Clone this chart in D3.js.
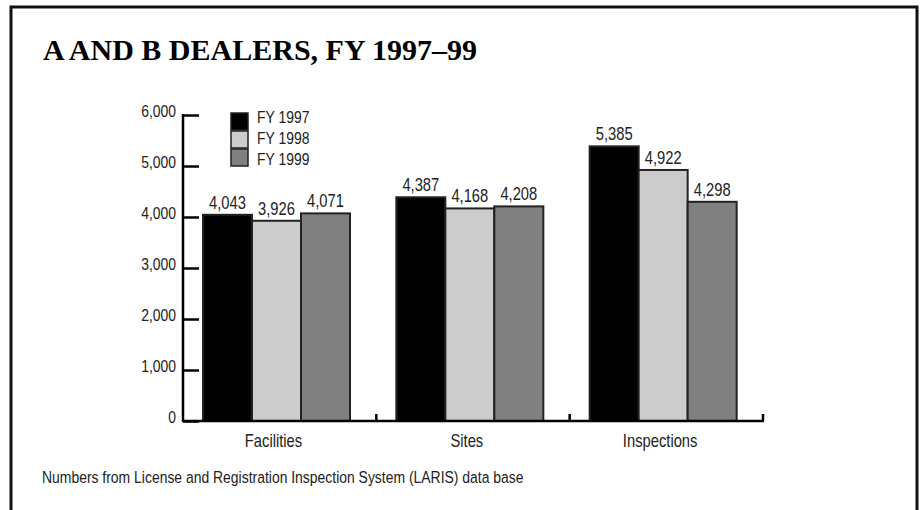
<!DOCTYPE html>
<html>
<head>
<meta charset="utf-8">
<script src="https://cdn.jsdelivr.net/npm/d3@7"></script>
<style>
	body { margin: 0; background: #fff; }
	svg text { font-family: "Liberation Sans", Arimo, sans-serif; fill: #222; }
</style>
</head>
<body>
<svg width="923" height="510"></svg>
<script>
"use strict";

var categories = ["Facilities", "Sites", "Inspections"];
var years = ["FY 1997", "FY 1998", "FY 1999"];
var fy1997 = [4043, 4387, 5385];
var fy1998 = [3926, 4168, 4922];
var fy1999 = [4071, 4208, 4298];
var yTicks = [0, 1000, 2000, 3000, 4000, 5000, 6000];
var colors = ["#000000", "#cccccc", "#808080"];

var series = [fy1997, fy1998, fy1999];
var SQ = 0.82; // horizontal squeeze to fake a condensed face
var svg = d3.select('svg');

function squeeze(sel) {
	sel.each(function() {
		var t = d3.select(this);
		t.attr('x', (+t.attr('x') || 0) / SQ).attr('transform', 'scale(' + SQ + ',1)');
	});
}

// frame (bottom edge runs off the page)
svg.append('rect')
	.attr('x', 11).attr('y', 7)
	.attr('width', 906).attr('height', 520)
	.attr('fill', 'none')
	.attr('stroke', '#111')
	.attr('stroke-width', 3);

svg.append('text')
	.attr('x', 43).attr('y', 60)
	.style('font-family', '"Liberation Serif", "DejaVu Serif", serif')
	.style('font-weight', 'bold')
	.style('font-size', '30px')
	.style('fill', '#000')
	.text('A AND B DEALERS, FY 1997\u201399');

var x0 = d3.scaleBand().domain(categories).range([183, 763]);
var x1 = d3.scaleBand().domain(years).range([20, 167]);
var y = d3.scaleLinear().domain([0, 6000]).range([421, 115]);

// bars
var groups = svg.selectAll('g.cat').data(categories).enter().append('g')
	.attr('class', 'cat')
	.attr('transform', function(d) {return 'translate(' + x0(d) + ',0)'});

groups.selectAll('rect').data(function(c, i) {
	return years.map(function(yr, j) {return {year: yr, value: series[j][i], k: j}});
}).enter().append('rect')
	.attr('x', function(d) {return x1(d.year)})
	.attr('y', function(d) {return y(d.value)})
	.attr('width', x1.bandwidth())
	.attr('height', function(d) {return y(0) - y(d.value)})
	.attr('fill', function(d) {return colors[d.k]})
	.attr('stroke', '#222')
	.attr('stroke-width', 2);

groups.selectAll('text.val').data(function(c, i) {
	return years.map(function(yr, j) {return {year: yr, value: series[j][i]}});
}).enter().append('text')
	.attr('class', 'val')
	.attr('x', function(d) {return x1(d.year) + x1.bandwidth() / 2})
	.attr('y', function(d) {return y(d.value) - 6})
	.attr('text-anchor', 'middle')
	.style('font-size', '18px')
	.text(function(d) {return d3.format(',')(d.value)})
	.call(squeeze);

// y axis
var yAxis = svg.append('g')
	.attr('transform', 'translate(183,0)')
	.call(d3.axisLeft(y).tickValues(yTicks).tickFormat(d3.format(',')).tickSize(-16).tickPadding(7));
yAxis.select('.domain').remove();
yAxis.selectAll('.tick line').attr('stroke', '#000').attr('stroke-width', 2.5);
yAxis.selectAll('.tick text').attr('dy', '0.1em').style('font-size', '17px').style('font-family', null)
	.call(squeeze);
yAxis.attr('font-family', null);
yAxis.append('line')
	.attr('x1', 0).attr('x2', 0)
	.attr('y1', y(6000) - 1).attr('y2', y(0) + 1)
	.attr('stroke', '#000').attr('stroke-width', 2.5);

// x axis
svg.append('line')
	.attr('x1', 183).attr('x2', 764)
	.attr('y1', y(0)).attr('y2', y(0))
	.attr('stroke', '#000').attr('stroke-width', 2.5);
svg.selectAll('line.xtick').data(categories).enter().append('line')
	.attr('class', 'xtick')
	.attr('x1', function(d) {return x0(d) + x0.bandwidth()})
	.attr('x2', function(d) {return x0(d) + x0.bandwidth()})
	.attr('y1', y(0)).attr('y2', y(0) - 7)
	.attr('stroke', '#000').attr('stroke-width', 2.5);

svg.selectAll('text.cat').data(categories).enter().append('text')
	.attr('class', 'cat')
	.attr('x', function(d) {return x0(d) + (x1.range()[0] + x1.range()[1]) / 2 - 3})
	.attr('y', 447)
	.attr('text-anchor', 'middle')
	.style('font-size', '18px')
	.text(function(d) {return d})
	.call(squeeze);

// legend
var legend = svg.selectAll('g.leg').data(years).enter().append('g')
	.attr('class', 'leg')
	.attr('transform', function(d, i) {return 'translate(231,' + (113 + i * 18) + ')'});
legend.append('rect')
	.attr('width', 17).attr('height', 17)
	.attr('fill', function(d, i) {return colors[i]})
	.attr('stroke', '#222').attr('stroke-width', 1.5);
legend.append('text')
	.attr('x', 26).attr('y', function(d, i) {return 10 + i * 3})
	.style('font-size', '17px')
	.text(function(d) {return d})
	.call(squeeze);

svg.append('text')
	.attr('x', 42).attr('y', 483)
	.style('font-size', '17px')
	.text('Numbers from License and Registration Inspection System (LARIS) data base')
	.call(squeeze);
</script>
</body>
</html>
